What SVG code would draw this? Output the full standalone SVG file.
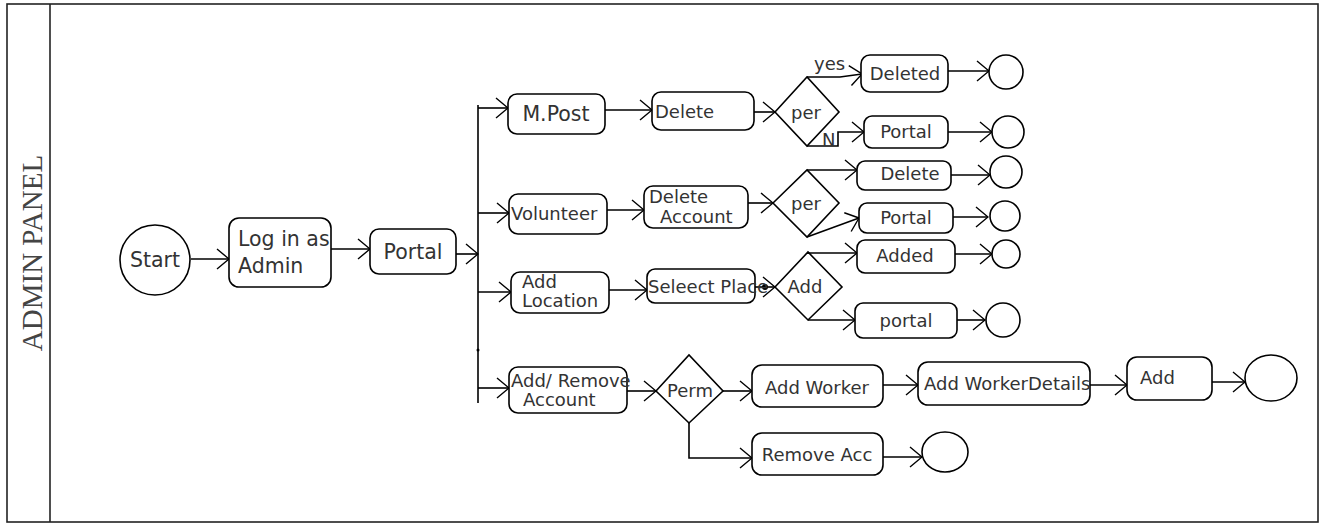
<svg xmlns="http://www.w3.org/2000/svg" width="1323" height="527" viewBox="0 0 1323 527">
<style>
.box{fill:#fff;stroke:#000;stroke-width:1.6}
.t{font-family:"DejaVu Sans",sans-serif;font-size:18px;fill:#333}
.tb{font-family:"DejaVu Sans",sans-serif;font-size:20.5px;fill:#333}
.c{fill:none;stroke:#000;stroke-width:1.6}
</style>
<defs>
<marker id="a" markerWidth="14" markerHeight="22" refX="13" refY="11" orient="auto" markerUnits="userSpaceOnUse">
<path d="M1,1 L13,11 L1,21" fill="none" stroke="#000" stroke-width="1.4"/>
</marker>
</defs>
<rect width="1323" height="527" fill="#fff"/>
<g id="frame">
<rect x="7" y="4" width="1311" height="518" fill="none" stroke="#222" stroke-width="1.6"/>
<line x1="50" y1="4" x2="50" y2="522" stroke="#222" stroke-width="1.6"/>
<text x="32" y="253" transform="rotate(-90 32 253)" text-anchor="middle" dominant-baseline="central" font-family="Liberation Serif, serif" font-size="29" fill="#444">ADMIN PANEL</text>
</g>
<g id="connectors" class="c" marker-end="url(#a)">
<path d="M191,259 H229"/>
<path d="M331,249 H370"/>
<path d="M456,254 H478"/>
<path d="M478,105 V403" marker-end="none"/>
<path d="M478,108 H508"/>
<path d="M478,213 H509"/>
<path d="M478,292 H511"/>
<path d="M478,388 H509"/>
<path d="M605,110 H652"/>
<path d="M754,112 H775"/>
<path d="M807,77 H840 L862,74"/>
<path d="M807,146 H838 V132 H864"/>
<path d="M948,71 H989"/>
<path d="M948,132 H992"/>
<path d="M607,210 H644"/>
<path d="M748,203 H773"/>
<path d="M807,170 H857"/>
<path d="M807,237 L859,218"/>
<path d="M951,175 H990"/>
<path d="M953,217 H988"/>
<path d="M609,290 H647"/>
<path d="M755,287 H775"/>
<path d="M808,253 H857"/>
<path d="M808,320 H855"/>
<path d="M955,254 H992"/>
<path d="M957,320 H985"/>
<path d="M627,391 H656"/>
<path d="M723,391 H752"/>
<path d="M689,423 V458 H752"/>
<path d="M883,385 H918"/>
<path d="M1090,385 H1127"/>
<path d="M1212,382 H1245"/>
<path d="M883,457 H922"/>
</g>
<g id="dots" fill="#000">
<circle cx="765" cy="287" r="3"/>
<circle cx="478" cy="350" r="1.5"/>
</g>
<g id="start"><circle class="box" cx="155" cy="260" r="35"/><text class="tb" x="155" y="267" text-anchor="middle">Start</text></g>
<g id="login"><rect class="box" x="229" y="218" width="102" height="69" rx="10"/><text class="tb" x="238" y="246">Log in as</text><text class="tb" x="238" y="273">Admin</text></g>
<g id="portal"><rect class="box" x="370" y="229" width="86" height="45" rx="9"/><text class="tb" x="413" y="259" text-anchor="middle">Portal</text></g>
<g id="mpost"><rect class="box" x="508" y="94" width="97" height="40" rx="9"/><text class="tb" x="556" y="121" text-anchor="middle">M.Post</text></g>
<g id="delete1"><rect class="box" x="652" y="92" width="102" height="38" rx="9"/><text class="t" x="655" y="118">Delete</text></g>
<g id="per1"><polygon class="box" points="775,112 807,77 839,112 807,146"/><text class="t" x="806" y="119" text-anchor="middle">per</text></g>
<g id="yes"><text class="t" x="814" y="70" font-size="16">yes</text></g>
<g id="n"><text class="t" x="822" y="146" font-size="15">N</text></g>
<g id="deleted"><rect class="box" x="861" y="55" width="87" height="37" rx="9"/><text class="t" x="905" y="80" text-anchor="middle">Deleted</text></g>
<g id="end1"><circle class="box" cx="1006" cy="72" r="17"/></g>
<g id="portal1"><rect class="box" x="864" y="116" width="84" height="32" rx="8"/><text class="t" x="906" y="138" text-anchor="middle">Portal</text></g>
<g id="end2"><circle class="box" cx="1008" cy="132" r="16"/></g>
<g id="volunteer"><rect class="box" x="509" y="194" width="98" height="40" rx="9"/><text class="t" x="511" y="220">Volunteer</text></g>
<g id="delacc"><rect class="box" x="644" y="186" width="104" height="42" rx="9"/><text class="t" x="649" y="203" font-size="16.5">Delete</text><text class="t" x="660" y="223" font-size="16.5">Account</text></g>
<g id="per2"><polygon class="box" points="773,203 807,170 839,203 807,237"/><text class="t" x="806" y="210" text-anchor="middle">per</text></g>
<g id="delete2"><rect class="box" x="857" y="161" width="94" height="29" rx="8"/><text class="t" x="910" y="180" text-anchor="middle">Delete</text></g>
<g id="end3"><circle class="box" cx="1006" cy="172" r="16"/></g>
<g id="portal2"><rect class="box" x="859" y="203" width="94" height="30" rx="8"/><text class="t" x="906" y="224" text-anchor="middle">Portal</text></g>
<g id="end4"><circle class="box" cx="1005" cy="216" r="15"/></g>
<g id="addloc"><rect class="box" x="511" y="272" width="98" height="41" rx="9"/><text class="t" x="522" y="288">Add</text><text class="t" x="522" y="307">Location</text></g>
<g id="select"><rect class="box" x="647" y="269" width="108" height="34" rx="8"/><text class="t" x="648" y="293">Seleect Place</text></g>
<g id="add1"><polygon class="box" points="775,287 808,252 842,287 808,320"/><text class="t" x="805" y="293" text-anchor="middle">Add</text></g>
<g id="added"><rect class="box" x="857" y="240" width="98" height="33" rx="8"/><text class="t" x="905" y="262" text-anchor="middle">Added</text></g>
<g id="end5"><circle class="box" cx="1006" cy="254" r="14"/></g>
<g id="portal3"><rect class="box" x="855" y="303" width="102" height="35" rx="8"/><text class="t" x="906" y="327" text-anchor="middle">portal</text></g>
<g id="end6"><circle class="box" cx="1003" cy="320" r="17"/></g>
<g id="addremove"><rect class="box" x="509" y="367" width="118" height="46" rx="9"/><text class="t" x="511" y="387">Add/ Remove</text><text class="t" x="523" y="406">Account</text></g>
<g id="perm"><polygon class="box" points="656,391 689,355 723,391 689,423"/><text class="t" x="690" y="397" text-anchor="middle">Perm</text></g>
<g id="addworker"><rect class="box" x="752" y="365" width="131" height="42" rx="10"/><text class="t" x="817" y="394" text-anchor="middle">Add Worker</text></g>
<g id="removeacc"><rect class="box" x="752" y="433" width="131" height="42" rx="10"/><text class="t" x="817" y="461" text-anchor="middle">Remove Acc</text></g>
<g id="end7"><ellipse class="box" cx="945" cy="452" rx="23" ry="20"/></g>
<g id="workerdetails"><rect class="box" x="918" y="362" width="172" height="43" rx="10"/><text class="t" x="924" y="390">Add WorkerDetails</text></g>
<g id="add2"><rect class="box" x="1127" y="357" width="85" height="43" rx="10"/><text class="t" x="1140" y="384">Add</text></g>
<g id="end8"><ellipse class="box" cx="1271" cy="378" rx="26" ry="23"/></g>
</svg>
